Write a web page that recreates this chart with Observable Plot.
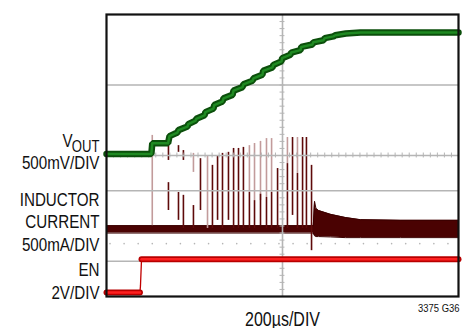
<!DOCTYPE html>
<html>
<head>
<meta charset="utf-8">
<script src="https://cdn.jsdelivr.net/npm/d3@7"></script>
<script src="https://cdn.jsdelivr.net/npm/@observablehq/plot@0.6"></script>
<style>
  html, body { margin: 0; padding: 0; background: #fff; }
  #chart svg { display: block; }
</style>
</head>
<body>
<div id="chart"></div>
<script>
// Time in µs (200µs/DIV, 10 divisions); vertical values in screen divisions (8 divisions)
// VOUT trace (500mV/DIV)
const voutTime = [0, 255, 260, 350, 358, 403, 409, 460, 465, 506, 510, 557, 562, 608, 612, 659, 665, 716, 722, 773, 778, 830, 835, 886, 890, 943, 948, 994, 998, 1045, 1050, 1102, 1107, 1170, 1175, 1233, 1240, 1290, 1300, 1360, 1443, 2000];
const voutDiv  = [4.04, 4.04, 4.35, 4.35, 4.55, 4.65, 4.72, 4.82, 4.89, 4.99, 5.04, 5.14, 5.23, 5.33, 5.43, 5.53, 5.62, 5.72, 5.84, 5.94, 6.02, 6.12, 6.19, 6.29, 6.40, 6.50, 6.57, 6.67, 6.76, 6.86, 6.92, 6.99, 7.08, 7.15, 7.21, 7.27, 7.33, 7.38, 7.41, 7.46, 7.49, 7.49];

// Inductor current envelope (500mA/DIV)
const ilTime   = [0, 1175, 1182, 1190, 1205, 1273, 1358, 1443, 1670, 2000];
const ilTop    = [2.01, 2.01, 2.70, 2.50, 2.44, 2.33, 2.24, 2.18, 2.16, 2.16];
const ilBottom = [1.80, 1.80, 1.72, 1.70, 1.70, 1.69, 1.67, 1.67, 1.67, 1.67];

// Inductor current switching spikes
const spikeTime   = [260, 352, 352, 409, 409, 437, 437, 494, 494, 534, 574, 602, 631, 659, 693, 722, 750, 778, 812, 812, 841, 841, 875, 875, 909, 909, 938, 938, 972, 1028, 1028, 1057, 1085, 1085, 1114, 1136, 1165];
const spikeTop    = [4.57, 4.51, 3.23, 4.28, 2.95, 4.14, 2.87, 4.06, 2.58, 3.91, 4.00, 3.72, 4.00, 4.06, 4.09, 4.20, 4.20, 4.23, 4.28, 2.95, 4.34, 2.72, 4.40, 2.90, 4.48, 2.81, 4.48, 2.95, 3.63, 4.51, 3.77, 4.51, 4.51, 3.49, 4.51, 4.51, 3.72];
const spikeBottom = [2.01, 3.86, 2.44, 4.09, 2.16, 3.86, 1.93, 3.52, 1.93, 2.44, 1.93, 1.93, 2.16, 1.93, 2.16, 1.93, 1.93, 1.93, 2.95, 1.93, 2.72, 1.93, 2.72, 2.01, 2.81, 1.93, 2.95, 1.93, 1.93, 3.77, 1.93, 2.30, 3.49, 1.93, 1.93, 1.93, 1.30];
const spikeTone   = ["light", "dark", "dark", "dark", "dark", "dark", "dark", "light", "dark", "dark", "light", "dark", "dark", "dark", "dark", "dark", "dark", "dark", "light", "dark", "light", "dark", "light", "dark", "light", "dark", "light", "dark", "dark", "light", "dark", "dark", "light", "dark", "dark", "dark", "dark"];

// EN trace (2V/DIV)
const enTime = [0, 190, 193, 199, 2000];
const enDiv  = [0.11, 0.11, 0.30, 1.06, 1.06];
const enPart = ["low", "low", "edge", "high", "high"];

// Grid
const gridDivY = [1, 3, 4, 6];
const gridDivX = [1000];

// Labels
const labelVout = ["V", "OUT", "500mV/DIV"];
const labelCurrent = ["INDUCTOR", "CURRENT", "500mA/DIV"];
const labelEn = ["EN", "2V/DIV"];
const xLabel = "200µs/DIV";
const figId = "3375 G36";

const vout = voutTime.map((t, i) => ({t, y: voutDiv[i]}));
const il = ilTime.map((t, i) => ({t, top: ilTop[i], bottom: ilBottom[i]}));
const spikes = spikeTime.map((t, i) => ({t, top: spikeTop[i], bottom: spikeBottom[i], tone: spikeTone[i]}));
const en = enTime.map((t, i) => ({t, y: enDiv[i], part: enPart[i]}));

const minorY = d3.range(0, 8.001, 0.2);
const minorX = d3.range(0, 2000.1, 40);
const dotX = d3.range(20, 2000, 80);
const gridColor = "#b5b5b5";
const font = "'Liberation Sans', Arial, sans-serif";

const chart = Plot.plot({
  width: 468,
  height: 328,
  marginLeft: 106,
  marginRight: 10,
  marginTop: 14,
  marginBottom: 32,
  x: {domain: [0, 2000], axis: null},
  y: {domain: [0, 8], axis: null},
  style: {fontFamily: font, background: "#fff", color: "#111"},
  marks: [
    // inductor current
    Plot.areaY(il, {x: "t", y1: "bottom", y2: "top", fill: "#4a0202", curve: "linear"}),
    Plot.line(il, {x: "t", y: "top", stroke: "#3a0000", strokeWidth: 1}),
    Plot.line(il, {x: "t", y: "bottom", stroke: "#3a0000", strokeWidth: 1}),
    Plot.ruleX(spikes, {x: "t", y1: "bottom", y2: "top",
      stroke: d => d.tone === "light" ? "#c29b9b" : "#5e0a0a", strokeWidth: 1.6}),
    // grid
    Plot.ruleY(gridDivY, {stroke: gridColor, strokeWidth: 1.6}),
    Plot.ruleX(gridDivX, {stroke: gridColor, strokeWidth: 1.6}),
    Plot.ruleY(minorY, {y: d => d, x1: 986, x2: 1014, stroke: gridColor, strokeWidth: 1}),
    Plot.ruleX(minorX, {x: d => d, y1: 3.93, y2: 4.07, stroke: gridColor, strokeWidth: 1}),
    Plot.dot(dotX, {x: d => d, y: 1.5, r: 0.8, fill: gridColor, stroke: null}),
    // VOUT
    Plot.line(vout, {x: "t", y: "y", stroke: "#0b4f0b", strokeWidth: 6.5, strokeLinejoin: "miter"}),
    Plot.line(vout, {x: "t", y: "y", stroke: "#1f8a22", strokeWidth: 2.5}),
    // EN
    Plot.line(en, {x: "t", y: "y", stroke: "#c00000", strokeWidth: 1.3}),
    Plot.line(en.filter(d => d.part !== "edge"), {x: "t", y: "y", z: "part", stroke: "#b80000", strokeWidth: 6}),
    Plot.line(en.filter(d => d.part !== "edge"), {x: "t", y: "y", z: "part", stroke: "#ff2020", strokeWidth: 2.5}),
    // frame
    Plot.frame({stroke: "#111", strokeWidth: 2.2}),
    // left labels
    Plot.text([labelVout[0]], {frameAnchor: "left", y: 4.235, dx: -34, textAnchor: "end", lineAnchor: "bottom", fontSize: 18.5, fill: "#111"}),
    Plot.text([labelVout[1]], {frameAnchor: "left", y: 4.10, dx: -7, textAnchor: "end", lineAnchor: "bottom", fontSize: 16, fill: "#111"}),
    Plot.text([labelVout[2]], {frameAnchor: "left", y: 3.63, dx: -7, textAnchor: "end", lineAnchor: "bottom", fontSize: 18.5, fill: "#111"}),
    Plot.text(labelCurrent, {frameAnchor: "left", y: (d, i) => [2.58, 1.93, 1.28][i], dx: -7, textAnchor: "end", lineAnchor: "bottom", fontSize: 18.5, fill: "#111"}),
    Plot.text(labelEn, {frameAnchor: "left", y: (d, i) => [0.57, -0.06][i], dx: -7, textAnchor: "end", lineAnchor: "bottom", fontSize: 18.5, fill: "#111"}),
    // bottom texts
    Plot.text([xLabel], {frameAnchor: "bottom", dy: 29, lineAnchor: "bottom", textAnchor: "middle", fontSize: 19.5, fill: "#111"}),
    Plot.text([figId], {frameAnchor: "bottom-right", dx: 1, dy: 15, lineAnchor: "bottom", textAnchor: "end", fontSize: 11.5, fill: "#111"})
  ]
});
document.getElementById("chart").appendChild(chart);
// Condensed (narrow) face: compress glyphs horizontally
chart.querySelectorAll("text").forEach(t => {
  const w = t.getComputedTextLength();
  if (w > 0) {
    t.setAttribute("textLength", (w * 0.82).toFixed(1));
    t.setAttribute("lengthAdjust", "spacingAndGlyphs");
  }
});
</script>
</body>
</html>
